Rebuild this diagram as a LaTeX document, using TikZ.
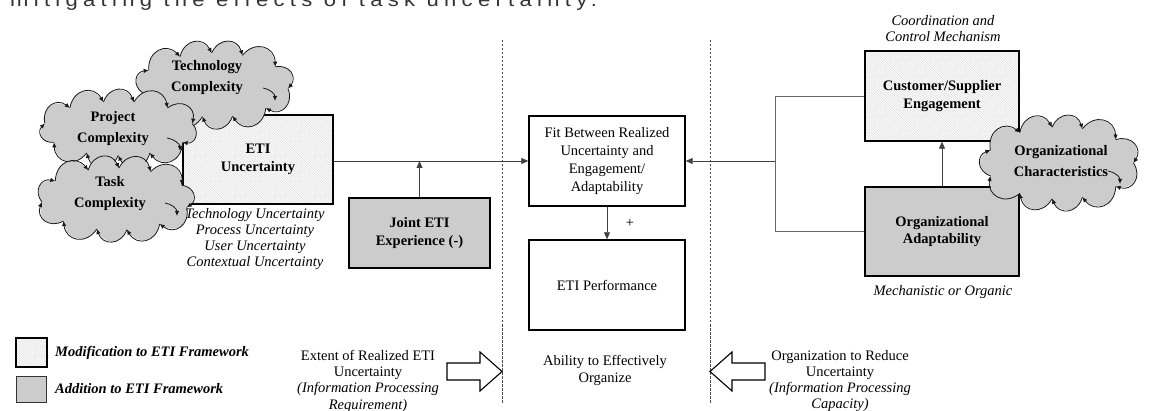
\documentclass[tikz,border=0pt]{standalone}
\usepackage{fontspec}
\setmainfont{Liberation Serif}
\newfontfamily\topfont[LetterSpace=24]{Liberation Sans}
\usetikzlibrary{arrows.meta,calc,patterns}
\pgfdeclarepatternformonly{finehatch}{\pgfqpoint{-1pt}{-1pt}}{\pgfqpoint{3.5pt}{3.5pt}}{\pgfqpoint{2.5pt}{2.5pt}}{%
  \pgfsetlinewidth{0.4pt}\pgfpathmoveto{\pgfqpoint{-0.1pt}{2.6pt}}\pgfpathlineto{\pgfqpoint{2.6pt}{-0.1pt}}\pgfusepath{stroke}}
\definecolor{addgray}{gray}{0.80}
\definecolor{linegray}{gray}{0.25}
\definecolor{brgray}{gray}{0.40}
\newcommand{\txtsize}{\fontsize{14.5}{17.5}\selectfont}

\newcommand{\mycloud}[6]{% name, cx, cy, rx, ry, offset
  \foreach \ci in {0,...,11}{
    \pgfmathsetmacro{\ct}{#6+\ci*360/11}
    \pgfmathsetmacro{\cth}{\ct+8.6*sin(2*\ct)}
    \coordinate (#1-\ci) at ({#2+#4*cos(\cth)},{#3+#5*sin(\cth)});
  }
  \fill[addgray] (#1-0) \foreach \ci/\cj in {0/1,1/2,2/3,3/4,4/5,5/6,6/7,7/8,8/9,9/10,10/11}
    { .. controls ($(#1-\ci)!0.58!70:(#1-\cj)$) and ($(#1-\cj)!0.58!-70:(#1-\ci)$) .. (#1-\cj) } -- cycle;
  \foreach \ci/\cj in {0/1,1/2,2/3,3/4,4/5,5/6,6/7,7/8,8/9,9/10,10/11}
    \draw[cloudedge] (#1-\ci) .. controls ($(#1-\ci)!0.58!70:(#1-\cj)$) and ($(#1-\cj)!0.58!-70:(#1-\ci)$) .. (#1-\cj);
}

\begin{document}
\begin{tikzpicture}[x=1pt,y=-1pt,
  box/.style={draw=black, line width=1.4pt, inner sep=2pt, align=center, font=\txtsize},
  modbox/.style={box, preaction={fill=white}, pattern=finehatch, pattern color=gray!28, font=\bfseries\txtsize},
  addbox/.style={box, fill=addgray, font=\bfseries\txtsize},
  plainbox/.style={box, fill=white},
  cloudtxt/.style={align=center, inner sep=0pt, font=\bfseries\fontsize{14.5}{21}\selectfont},
  itxt/.style={align=center, inner sep=0pt, font=\itshape\fontsize{14.5}{16}\selectfont},
  rtxt/.style={align=center, inner sep=0pt, font=\fontsize{14.5}{16.3}\selectfont},
  legtxt/.style={inner sep=0pt, anchor=west, font=\bfseries\itshape\txtsize},
  conn/.style={draw=linegray, line width=0.8pt},
  brline/.style={draw=brgray, line width=0.8pt},
  tip/.style={-{Triangle[length=7pt,width=6pt]}},
  cloudedge/.style={draw=black!90, line width=0.8pt, -{Latex[length=5pt,width=4.5pt]}},
  hook/.style={draw=black!90, line width=0.8pt, -{Latex[length=5pt,width=4.5pt]}},
  dashline/.style={draw=black!70, line width=0.6pt, dash pattern=on 2.5pt off 1.5pt},
  hollow/.style={draw=black, line width=1.1pt, fill=white, line join=miter}
]
\useasboundingbox (0,0) rectangle (1153,411);

% cut-off text at top
\node[anchor=base west, inner sep=0pt, text=black!80, font=\topfont\fontsize{19}{21}\selectfont] (toptext) at (10,7) {\scalebox{1.16}[1]{mitigating the effects of task uncertainty.}};

% dashed separators
\coordinate (d1t) at (502,40); \coordinate (d1b) at (502,404);
\coordinate (d2t) at (710,40); \coordinate (d2b) at (710,404);
\draw[dashline] (d1t) -- (d1b);
\draw[dashline] (d2t) -- (d2b);

% ETI uncertainty
\node[modbox, minimum width=150pt, minimum height=89pt] (eti) at (258,159.5) {ETI\\Uncertainty};

% clouds on the left
\mycloud{tc}{214.5}{85}{74}{32}{5}
\node[cloudtxt] (tctxt) at (207,77.5) {Technology\\Complexity};
\draw[hook] (263,88) .. controls (270,89) and (275,94) .. (275,101);
\mycloud{pc}{118.5}{128.5}{75}{27}{-8}
\node[cloudtxt] (pctxt) at (113,129) {Project\\Complexity};
\draw[hook] (167,138) .. controls (174,139) and (180,144) .. (180,151);
\mycloud{kc}{115.5}{199}{74}{31}{12}
\node[cloudtxt] (kctxt) at (110,193.5) {Task\\Complexity};
\draw[hook] (165,203) .. controls (172,204) and (177,209) .. (177,216);

\node[itxt] (etilist) at (255,239) {Technology Uncertainty\\Process Uncertainty\\User Uncertainty\\Contextual Uncertainty};

% joint experience
\node[addbox, minimum width=141pt, minimum height=70pt] (joint) at (419.5,233) {Joint ETI\\Experience (-)};

% central boxes
\node[plainbox, minimum width=156pt, minimum height=90pt, font=\fontsize{14.5}{17.7}\selectfont] (fit) at (607,161) {Fit Between Realized\\Uncertainty and\\Engagement/\\Adaptability};
\node[plainbox, minimum width=156pt, minimum height=90pt] (perf) at (607,285) {ETI Performance};
\node[inner sep=0pt, font=\txtsize] (plus) at (630,223) {+};

% right side
\node[itxt] (coord) at (943,28.5) {Coordination and\\Control Mechanism};
\node[modbox, minimum width=154pt, minimum height=90pt] (cust) at (942,96) {Customer/Supplier\\Engagement};
\node[addbox, minimum width=154pt, minimum height=89pt] (orgad) at (942,231.5) {Organizational\\Adaptability};
\node[itxt] (mech) at (943,292) {Mechanistic or Organic};
\mycloud{oc}{1059.5}{163}{74}{36}{0}
\node[cloudtxt] (octxt) at (1061,161.5) {Organizational\\Characteristics};
\draw[hook] (1108,171) .. controls (1115,172) and (1120,177) .. (1120,184);

% connectors
\draw[conn, tip] (eti.east |- fit.west) -- (fit.west);
\draw[conn, tip] (joint.north) -- (joint.north |- fit.west);
\draw[conn, tip] (fit.south) -- (perf.north);
\coordinate (brk) at (775,161);
\draw[brline] (cust.west) -| (brk) |- (orgad.west);
\draw[conn, tip] (brk) -- (fit.east);
\draw[conn, tip] (orgad.north) -- (cust.south);

% legend
\node[draw=black, line width=2.2pt, preaction={fill=white}, pattern=finehatch, pattern color=gray!28, minimum width=31pt, minimum height=29pt, inner sep=0pt] (leg1) at (31.5,352.5) {};
\node[draw=black!80, line width=1pt, fill=addgray, minimum width=30pt, minimum height=26pt, inner sep=0pt] (leg2) at (31.5,389) {};
\node[legtxt] (leg1t) at (55,353) {Modification to ETI Framework};
\node[legtxt] (leg2t) at (55,389) {Addition to ETI Framework};

% bottom texts
\node[rtxt] (extent) at (368,381) {Extent of Realized ETI\\Uncertainty\\\textit{(Information Processing}\\\textit{Requirement)}};
\node[rtxt] (ability) at (605,370.5) {Ability to Effectively\\Organize};
\node[rtxt] (orgred) at (840,381) {Organization to Reduce\\Uncertainty\\\textit{(Information Processing}\\\textit{Capacity)}};

% hollow arrows
\draw[hollow] (447,363) -- (480,363) -- (480,352) -- (502,371.5) -- (480,391) -- (480,380) -- (447,380) -- cycle;
\draw[hollow] (765,363) -- (732,363) -- (732,352) -- (710,371.5) -- (732,391) -- (732,380) -- (765,380) -- cycle;
\end{tikzpicture}
\end{document}
